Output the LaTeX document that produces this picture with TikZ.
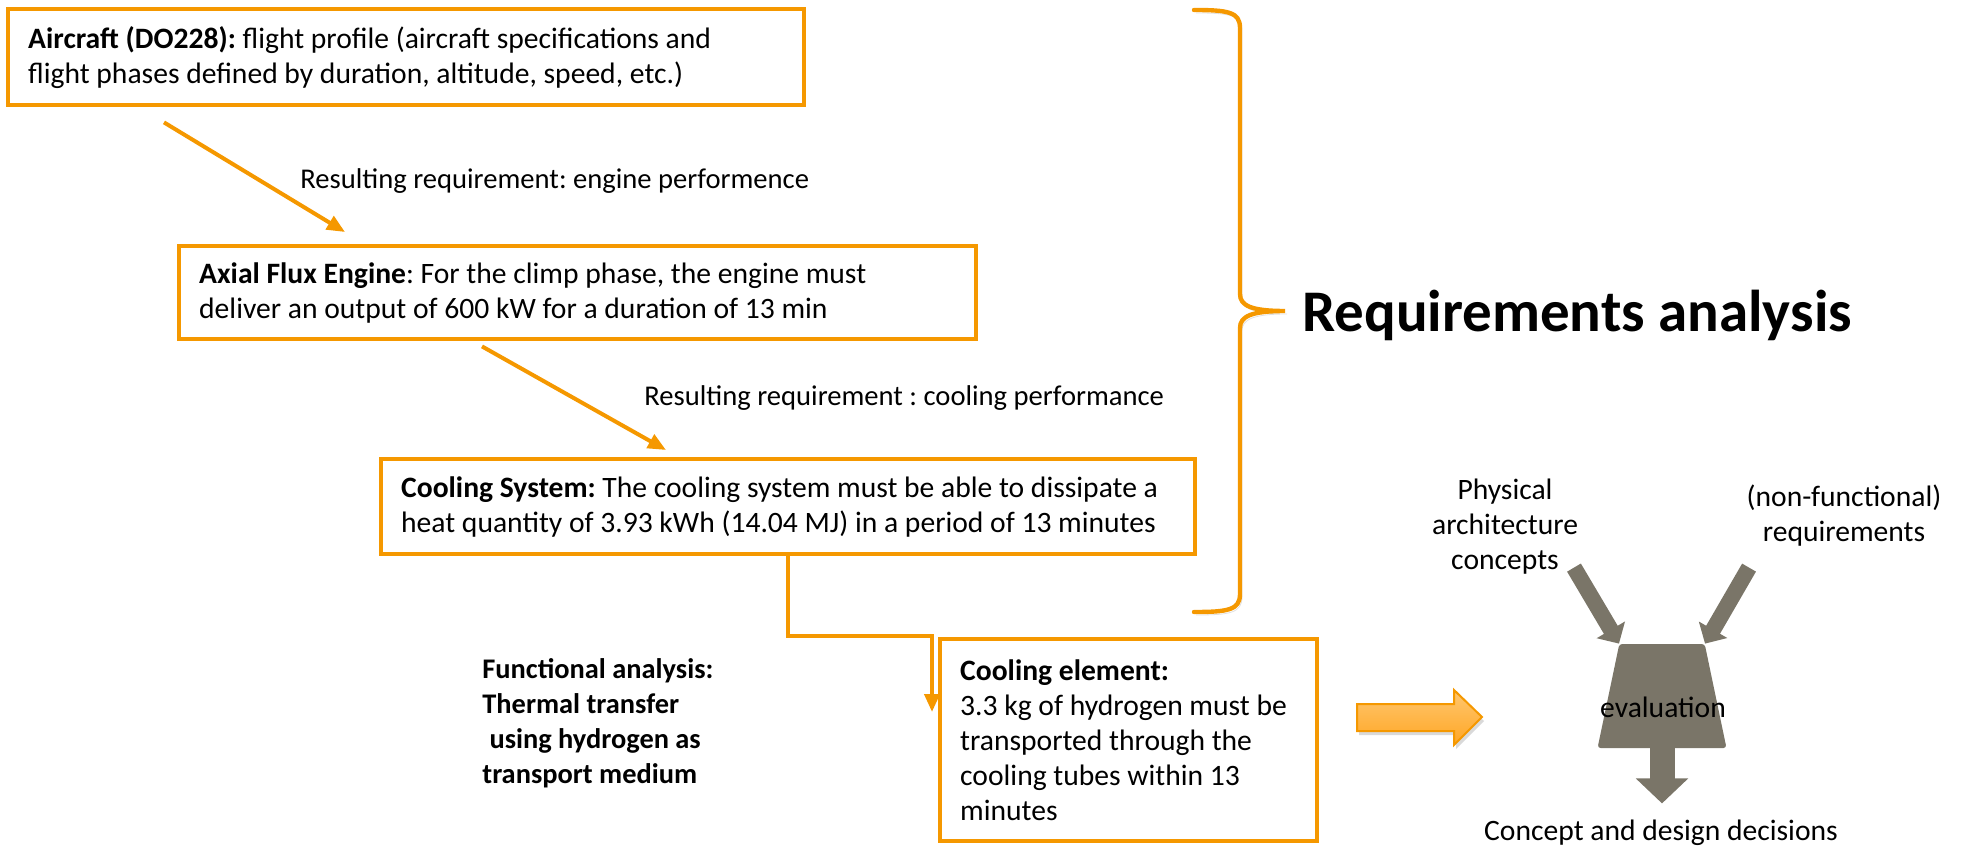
\documentclass[tikz,border=0pt]{standalone}
\usepackage{fontspec}
\setmainfont{Carlito}
\usetikzlibrary{arrows.meta,positioning,shapes.geometric,calc,shadows}
\definecolor{reqorange}{RGB}{245,152,0}
\definecolor{handtop}{RGB}{255,199,112}
\definecolor{handbot}{RGB}{255,166,36}
\definecolor{evalgrey}{RGB}{122,117,104}

\begin{document}
\begin{tikzpicture}[
  x=0.5pt,y=-0.5pt,
  req/.style={draw=reqorange, line width=2.2pt, anchor=north west, align=flush left, inner xsep=10pt, inner ysep=0pt, font=\fontsize{14.8}{17.5}\selectfont\frenchspacing},
  txt/.style={inner sep=0pt, font=\fontsize{14.8}{17.5}\selectfont\frenchspacing},
  lbl/.style={inner sep=0pt, anchor=west, font=\fontsize{14.3}{17}\selectfont\frenchspacing},
  arr/.style={draw=reqorange, line width=2pt, -{Triangle[length=9pt,width=7.5pt]}},
  brace/.style={draw=reqorange, line width=2.2pt, line cap=round, preaction={draw=black!12, transform canvas={xshift=1pt,yshift=-1.5pt}}},
  evalshape/.style={trapezium, trapezium angle=75.7, trapezium stretches=true, minimum width=64.5pt, minimum height=52pt, inner sep=2pt, fill=evalgrey, rounded corners=1.5pt},
  inarr/.style={draw=evalgrey, line width=8pt, -{Triangle[length=8pt,width=16pt]}},
  outarr/.style={draw=evalgrey, line width=12.5pt, -{Triangle[length=12.5pt,width=25.5pt]}},
  handover/.style={draw=reqorange, line width=1pt, top color=handtop, bottom color=handbot, drop shadow={opacity=0.3, shadow xshift=1pt, shadow yshift=-2pt}}
]
\useasboundingbox (0,0) rectangle (1964,850);
\node[req, text width=378pt, minimum height=48pt] (aircraft) at (6,7) {\textbf{Aircraft (DO228):} flight profile (aircraft specifications and\\flight phases defined by duration, altitude, speed, etc.)};
\node[req, text width=378.5pt, minimum height=46.5pt] (engine) at (177,244) {\textbf{Axial Flux Engine}: For the climp phase, the engine must\\deliver an output of 600 kW for a duration of 13 min};
\node[req, text width=387pt, minimum height=47.5pt] (coolsys) at (379,457) {\textbf{Cooling System:} The cooling system must be able to dissipate a\\heat quantity of 3.93 kWh (14.04 MJ) in a period of 13 minutes};
\node[req, text width=168.5pt, minimum height=101pt] (coolelem) at (938,637) {\textbf{Cooling element:}\\3.3 kg of hydrogen must be\\transported through the\\cooling tubes within 13\\minutes};
\node[lbl] (lbleng) at (300,181) {Resulting requirement: engine performence};
\node[lbl] (lblcool) at (644,398) {Resulting requirement : cooling performance};
\node[txt, anchor=north west, align=flush left, font=\fontsize{14.2}{17.5}\selectfont\bfseries] (funcan) at (482,658) {Functional analysis:\\Thermal transfer\\\hspace{0.25em}using hydrogen as\\transport medium};
\draw[arr] ($(aircraft.south west)+(158,15)$) -- ($(engine.north west)+(168,-12)$);
\draw[arr] ($(engine.south west)+(305,5)$) -- ($(coolsys.north west)+(287,-7)$);
\draw[arr] (coolsys.south) -- ++(0,80) -| ($(coolelem.north west)+(-6,75)$);
\draw[brace] (1194,10) .. controls (1228,10) and (1240,12) .. (1240,28) -- (1240,294) .. controls (1240,306) and (1252,311) .. (1285,311) coordinate (bracetip) .. controls (1252,311) and (1240,316) .. (1240,328) -- (1240,594) .. controls (1240,610) and (1228,612) .. (1194,612);
\node[font=\fontsize{29.5}{34}\selectfont\bfseries, inner sep=0pt, anchor=base west] (reqan) at ($(bracetip)+(17,20)$) {Requirements analysis};
\path[handover] (1357,704) -- (1454,704) -- (1454,690) -- (1482,717) -- (1454,745) -- (1454,731) -- (1357,731) -- cycle;
\node[txt, align=flush center] (physarch) at (1505,527) {Physical\\architecture\\concepts};
\node[txt, align=flush center] (nonfunc) at (1844,516) {(non-functional)\\requirements};
\node[evalshape] (evalbox) at (1662,696) {};
\node[txt] (evaltxt) at (1663,707) {evaluation};
\foreach \corner/\dx in {top left corner/-45, top right corner/44}{\draw[inarr] ([shift={(\dx,-76)}]evalbox.\corner) -- (evalbox.\corner);}
\draw[outarr] (evalbox.south) -- ++(0,55);
\node[txt] (decision) at (1661,833) {Concept and design decisions};
\end{tikzpicture}
\end{document}
